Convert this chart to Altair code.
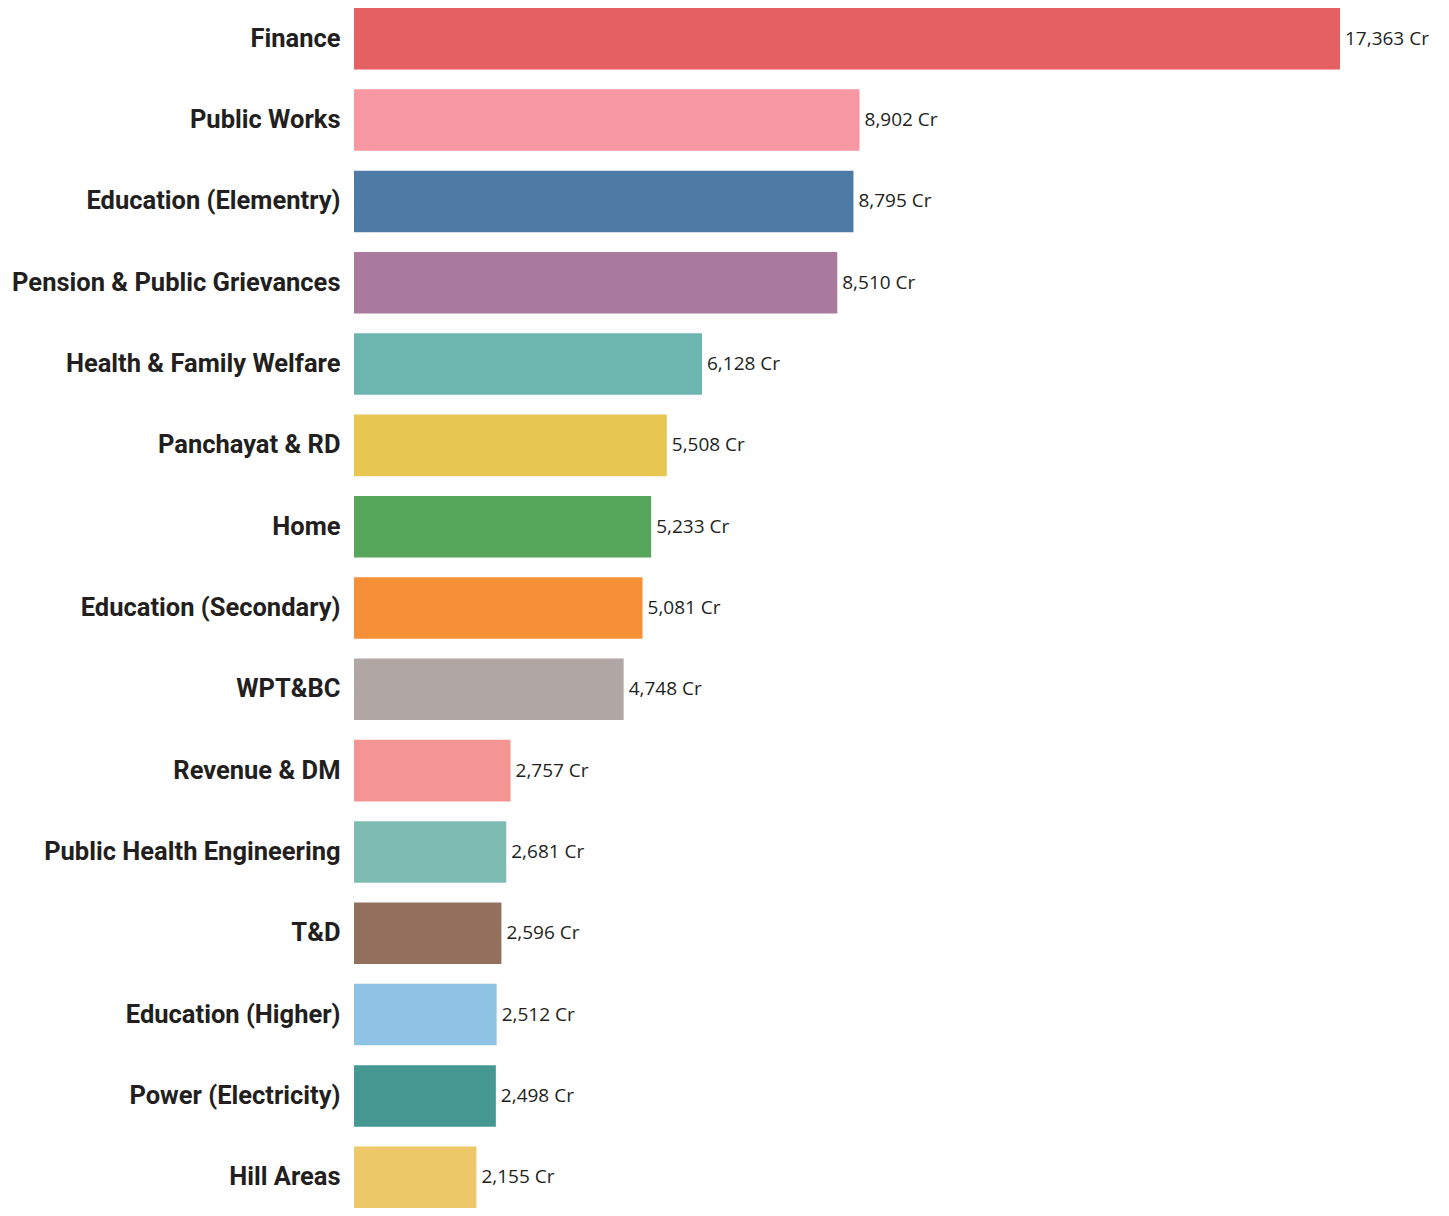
import altair as alt
import pandas as pd

categories = [
    "Finance", "Public Works", "Education (Elementry)", "Pension & Public Grievances",
    "Health & Family Welfare", "Panchayat & RD", "Home", "Education (Secondary)",
    "WPT&BC", "Revenue & DM", "Public Health Engineering", "T&D",
    "Education (Higher)", "Power (Electricity)", "Hill Areas",
]
values = [17363, 8902, 8795, 8510, 6128, 5508, 5233, 5081, 4748, 2757, 2681, 2596, 2512, 2498, 2155]
colors = [
    "#E46062", "#F697A2", "#4E7BA6", "#A9799E", "#6DB6AF", "#E8C652", "#56A75B", "#F59039",
    "#B0A6A4", "#F59593", "#7EBBB3", "#93705D", "#8EC3E3", "#449891", "#EDC868",
]

df = pd.DataFrame({"category": categories, "value": values})

y = alt.Y(
    "category:N",
    sort=categories,
    scale=alt.Scale(paddingInner=0.243, paddingOuter=0),
    axis=alt.Axis(
        title=None, ticks=False, domain=False, labelPadding=14, labelLimit=500,
        labelFont="Roboto", labelFontSize=25.5, labelFontWeight="bold", labelColor="#231f20",
    ),
)
x = alt.X("value:Q", scale=alt.Scale(domain=[0, 17363], nice=False, zero=True), axis=None)

bars = alt.Chart(df).mark_bar().encode(
    y=y, x=x,
    color=alt.Color("category:N", scale=alt.Scale(domain=categories, range=colors), legend=None),
)

labels = alt.Chart(df).transform_calculate(
    label="format(datum.value, ',') + ' Cr'"
).mark_text(
    align="left", baseline="middle", dx=5, font="Open Sans", fontSize=19, color="#231f20"
).encode(y=y, x=x, text="label:N")

chart = (bars + labels).properties(
    width=986, height=1200,
    autosize=alt.AutoSizeParams(type="none"),
    padding={"left": 346, "top": 0, "right": 95, "bottom": 0},
).configure_view(stroke=None)

chart.save("out.html", embed_options={"renderer": "svg", "actions": False})
